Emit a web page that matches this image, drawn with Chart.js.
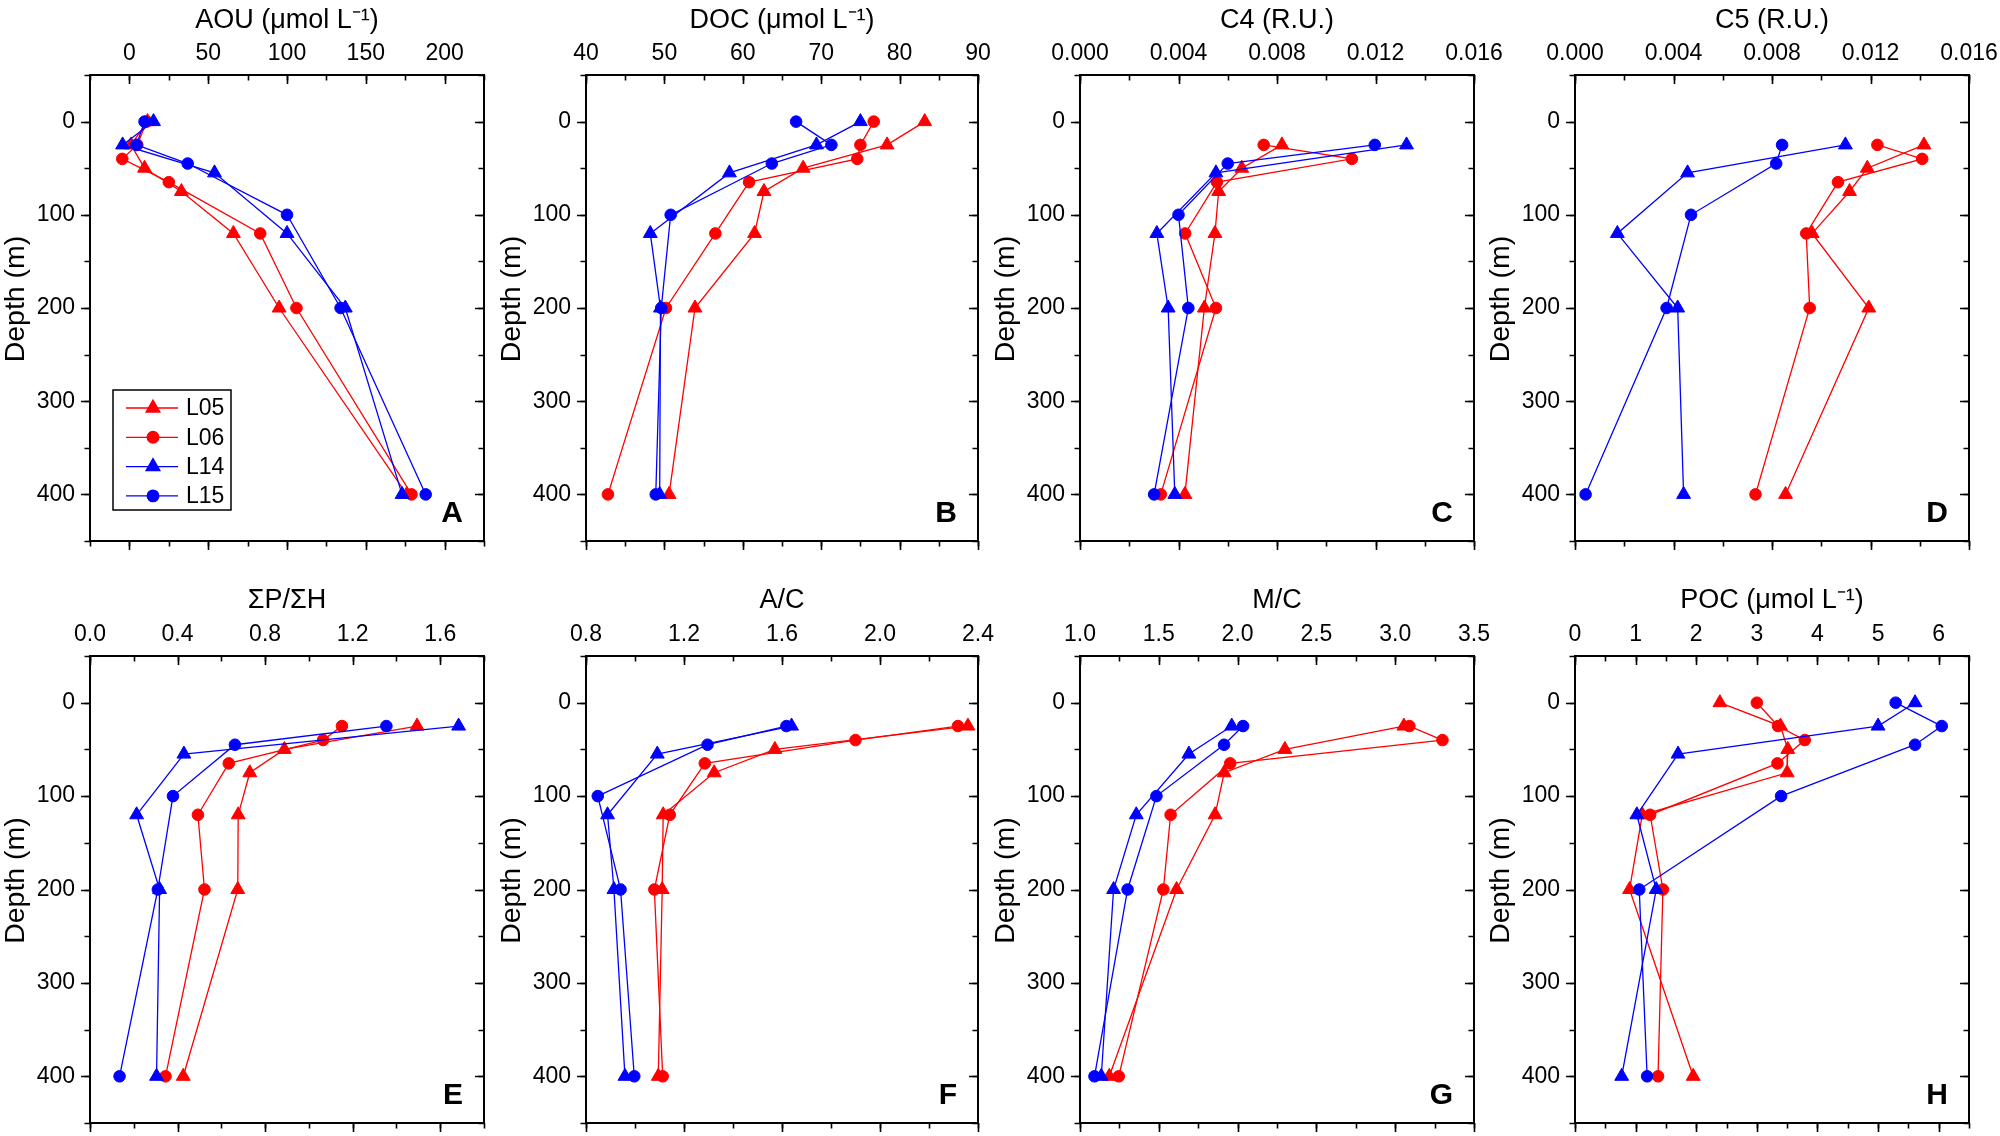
<!DOCTYPE html>
<html>
<head>
<meta charset="utf-8">
<script src="https://cdn.jsdelivr.net/npm/chart.js@4.4.1/dist/chart.umd.min.js"></script>
<style>
  html, body { margin: 0; padding: 0; background: #fff; overflow: hidden; }
  #wrap { position: relative; width: 2000px; height: 1136px; }
  canvas { position: absolute; }
</style>
</head>
<body>
<div id="wrap"></div>
<script>
// sampling depths (m) per station
const depthL05 = [0, 25, 50, 75, 120, 200, 400];
const depthL06 = [0, 25, 40, 65, 120, 200, 400];
const depthL14 = [0, 25, 55, 120, 200, 400];
const depthL15 = [0, 25, 45, 100, 200, 400];
const depthTicks = ['0', '100', '200', '300', '400'];

// A - AOU
const aouL05 = [11.5, 1, 9.6, 33, 66, 95, 176];
const aouL06 = [11, 5, -4.5, 25, 83, 106, 179];
const aouL14 = [15.3, -4.3, 54, 100, 137, 173];
const aouL15 = [9.6, 4.5, 37, 100, 134, 188];
const aouTicks = ['0', '50', '100', '150', '200'];

// B - DOC
const docL05 = [83.2, 78.4, 67.7, 62.7, 61.5, 53.9, 50.6];
const docL06 = [76.7, 75.0, 74.6, 60.8, 56.5, 50.2, 42.8];
const docL14 = [75.0, 69.4, 58.3, 48.2, 49.5, 49.4];
const docL15 = [66.8, 71.3, 63.7, 50.8, 49.6, 48.9];
const docTicks = ['40', '50', '60', '70', '80', '90'];

// C - C4
const c4L05 = [null, 0.0082, 0.00657, 0.00563, 0.00548, 0.00505, 0.00426];
const c4L06 = [null, 0.00746, 0.01104, 0.00556, 0.00427, 0.00552, 0.00328];
const c4L14 = [null, 0.01326, 0.00552, 0.00312, 0.00358, 0.00385];
const c4L15 = [null, 0.01197, 0.0060, 0.0040, 0.0044, 0.00301];
const c4Ticks = ['0.000', '0.004', '0.008', '0.012', '0.016'];

// D - C5
const c5L05 = [null, 0.01417, 0.01187, 0.01115, 0.00963, 0.01193, 0.00855];
const c5L06 = [null, 0.01228, 0.0141, 0.01068, 0.00939, 0.00953, 0.00733];
const c5L14 = [null, 0.01098, 0.00457, 0.00172, 0.00417, 0.00441];
const c5L15 = [null, 0.00841, 0.00817, 0.00471, 0.00372, 0.00043];
const c5Ticks = ['0.000', '0.004', '0.008', '0.012', '0.016'];

// E - sumP/sumH
const phL05 = [null, 1.494, 0.888, 0.73, 0.677, 0.675, 0.426];
const phL06 = [null, 1.151, 1.065, 0.634, 0.493, 0.523, 0.345];
const phL14 = [null, 1.684, 0.429, 0.213, 0.318, 0.304];
const phL15 = [null, 1.354, 0.662, 0.379, 0.310, 0.135];
const phTicks = ['0.0', '0.4', '0.8', '1.2', '1.6'];

// F - A/C
const acL05 = [null, 2.359, 1.571, 1.323, 1.115, 1.111, 1.095];
const acL06 = [null, 2.318, 1.90, 1.285, 1.142, 1.079, 1.113];
const acL14 = [null, 1.639, 1.091, 0.888, 0.914, 0.959];
const acL15 = [null, 1.618, 1.296, 0.848, 0.941, 0.997];
const acTicks = ['0.8', '1.2', '1.6', '2.0', '2.4'];

// G - M/C
const mcL05 = [null, 3.055, 2.30, 1.915, 1.857, 1.613, 1.186];
const mcL06 = [null, 3.09, 3.30, 1.953, 1.575, 1.529, 1.246];
const mcL14 = [null, 1.963, 1.691, 1.357, 1.213, 1.135];
const mcL15 = [null, 2.035, 1.914, 1.485, 1.302, 1.092];
const mcTicks = ['1.0', '1.5', '2.0', '2.5', '3.0', '3.5'];

// H - POC
const pocL05 = [2.39, 3.39, 3.51, 3.50, 1.11, 0.90, 1.95];
const pocL06 = [3.0, 3.35, 3.79, 3.34, 1.24, 1.45, 1.37];
const pocL14 = [5.61, 5.0, 1.70, 1.02, 1.34, 0.77];
const pocL15 = [5.29, 6.05, 5.61, 3.40, 1.06, 1.19];
const pocTicks = ['0', '1', '2', '3', '4', '5', '6'];

const stations = [
    { name: 'L05', depth: depthL05, color: '#ff0000', marker: 'triangle' },
    { name: 'L06', depth: depthL06, color: '#ff0000', marker: 'circle' },
    { name: 'L14', depth: depthL14, color: '#0000ff', marker: 'triangle' },
    { name: 'L15', depth: depthL15, color: '#0000ff', marker: 'circle' }
];

const panels = [
    { letter: 'A', title: 'AOU (μmol L⁻¹)', min: -25, max: 225, minor: 25, ticks: aouTicks, series: [aouL05, aouL06, aouL14, aouL15], legend: true },
    { letter: 'B', title: 'DOC (μmol L⁻¹)', min: 40, max: 90, minor: 5, ticks: docTicks, series: [docL05, docL06, docL14, docL15] },
    { letter: 'C', title: 'C4 (R.U.)', min: 0, max: 0.016, minor: 0.002, ticks: c4Ticks, series: [c4L05, c4L06, c4L14, c4L15] },
    { letter: 'D', title: 'C5 (R.U.)', min: 0, max: 0.016, minor: 0.002, ticks: c5Ticks, series: [c5L05, c5L06, c5L14, c5L15] },
    { letter: 'E', title: 'ΣP/ΣH', min: 0, max: 1.8, minor: 0.2, ticks: phTicks, series: [phL05, phL06, phL14, phL15] },
    { letter: 'F', title: 'A/C', min: 0.8, max: 2.4, minor: 0.2, ticks: acTicks, series: [acL05, acL06, acL14, acL15] },
    { letter: 'G', title: 'M/C', min: 1.0, max: 3.5, minor: 0.25, ticks: mcTicks, series: [mcL05, mcL06, mcL14, mcL15] },
    { letter: 'H', title: 'POC (μmol L⁻¹)', min: 0, max: 6.5, minor: 0.5, ticks: pocTicks, series: [pocL05, pocL06, pocL14, pocL15] }
];

// plot box edges on the page
const colLeft = [90, 586, 1080, 1575];
const colRight = [484, 978, 1474, 1969];
const rowTop = [75, 656];
const rowBottom = [541, 1123];
const LEFT_W = 90, TOP_H = 75, PAD_R = 40, PAD_B = 13;
const TRI_R = 8, CIRC_R = 5.8;

const FONT = '"Liberation Sans", Arial, sans-serif';
Chart.defaults.font.family = FONT;
Chart.defaults.color = '#000';

// frame, Origin-style ticks, panel letter, y title, legend
const framePlugin = {
    id: 'frame',
    afterDraw(chart, args, opts) {
        const ctx = chart.ctx;
        const { left, right, top, bottom } = chart.chartArea;
        const xs = chart.scales.x, ys = chart.scales.y;
        const p = opts.panel;
        ctx.save();
        ctx.strokeStyle = '#000';
        ctx.lineWidth = 2;
        ctx.strokeRect(left, top, right - left, bottom - top);

        ctx.lineWidth = 1.6;
        const xTick = (v, len) => {
            const px = Math.round(xs.getPixelForValue(v)) + 0.5;
            ctx.beginPath();
            ctx.moveTo(px, top); ctx.lineTo(px, top + len);
            ctx.moveTo(px, bottom); ctx.lineTo(px, bottom + len);
            ctx.stroke();
        };
        const yTick = (v, len) => {
            const py = Math.round(ys.getPixelForValue(v)) + 0.5;
            ctx.beginPath();
            ctx.moveTo(left - len, py); ctx.lineTo(left, py);
            ctx.moveTo(right - len, py); ctx.lineTo(right, py);
            ctx.stroke();
        };
        for (let k = Math.ceil(p.min / p.minor - 1e-6); k * p.minor <= p.max + 1e-9; k++) {
            xTick(k * p.minor, 5.5);
        }
        p.ticks.forEach(t => xTick(parseFloat(t), 9));
        for (let v = -50; v <= 450; v += 50) yTick(v, 5.5);
        depthTicks.forEach(t => yTick(parseFloat(t), 9));

        // y title
        ctx.fillStyle = '#000';
        ctx.font = '28.5px ' + FONT;
        ctx.textAlign = 'center';
        ctx.textBaseline = 'middle';
        ctx.save();
        ctx.translate(16, (top + bottom) / 2 - 9);
        ctx.rotate(-Math.PI / 2);
        ctx.fillText('Depth (m)', 0, 0);
        ctx.restore();

        // panel letter
        ctx.font = 'bold 30px ' + FONT;
        ctx.textAlign = 'right';
        ctx.textBaseline = 'alphabetic';
        ctx.fillText(p.letter, right - 21, bottom - 19.5);

        if (p.legend) {
            const bx = left + 23, by = top + 315, bw = 118, bh = 120;
            ctx.strokeStyle = '#000';
            ctx.lineWidth = 1.5;
            ctx.strokeRect(bx, by, bw, bh);
            stations.forEach((s, i) => {
                const ly = by + 18 + i * 29.3;
                ctx.strokeStyle = s.color;
                ctx.fillStyle = s.color;
                ctx.lineWidth = 1.3;
                ctx.beginPath();
                ctx.moveTo(bx + 13, ly); ctx.lineTo(bx + 65, ly);
                ctx.stroke();
                Chart.helpers.drawPoint(ctx, {
                    pointStyle: s.marker,
                    radius: s.marker === 'triangle' ? TRI_R : CIRC_R,
                    borderWidth: 1, rotation: 0
                }, bx + 40, ly);
                ctx.fillStyle = '#000';
                ctx.font = '23px ' + FONT;
                ctx.textAlign = 'left';
                ctx.textBaseline = 'middle';
                ctx.fillText(s.name, bx + 73, ly + 1);
            });
        }
        ctx.restore();
    }
};

const wrap = document.getElementById('wrap');

panels.forEach((p, i) => {
    const col = i % 4, row = Math.floor(i / 4);
    const boxW = colRight[col] - colLeft[col];
    const boxH = rowBottom[row] - rowTop[row];
    const canvas = document.createElement('canvas');
    const w = boxW + LEFT_W + PAD_R, h = boxH + TOP_H + PAD_B;
    canvas.width = w; canvas.height = h;
    canvas.style.width = w + 'px'; canvas.style.height = h + 'px';
    canvas.style.left = (colLeft[col] - LEFT_W) + 'px';
    canvas.style.top = (rowTop[row] - TOP_H) + 'px';
    wrap.appendChild(canvas);

    const datasets = stations.map((s, j) => {
        const pts = [];
        p.series[j].forEach((v, k) => {
            if (v !== null) pts.push({ x: v, y: s.depth[k] });
        });
        return {
            label: s.name,
            data: pts,
            showLine: true,
            borderColor: s.color,
            backgroundColor: s.color,
            borderWidth: 1.3,
            pointStyle: s.marker,
            pointRadius: s.marker === 'triangle' ? TRI_R : CIRC_R,
            pointBorderWidth: 1,
            pointBorderColor: s.color,
            pointBackgroundColor: s.color,
            order: 4 - j
        };
    });

    new Chart(canvas.getContext('2d'), {
        type: 'scatter',
        data: { datasets: datasets },
        options: {
            responsive: false,
            animation: false,
            devicePixelRatio: 1,
            events: [],
            layout: { padding: { left: 0, top: 0, right: PAD_R, bottom: PAD_B } },
            plugins: {
                legend: { display: false },
                tooltip: { enabled: false },
                frame: { panel: p }
            },
            scales: {
                x: {
                    type: 'linear',
                    position: 'top',
                    min: p.min,
                    max: p.max,
                    afterFit: s => { s.height = TOP_H; s.paddingLeft = 0; s.paddingRight = 0; },
                    afterBuildTicks: s => { s.ticks = p.ticks.map(t => ({ value: parseFloat(t) })); },
                    ticks: {
                        callback: (v, idx) => p.ticks[idx],
                        autoSkip: false,
                        maxRotation: 0,
                        padding: 2,
                        color: '#000',
                        font: { size: 23, lineHeight: 1 }
                    },
                    grid: { display: false },
                    border: { display: false },
                    title: {
                        display: true,
                        text: p.title,
                        color: '#000',
                        font: { size: 27, lineHeight: 1 },
                        padding: { top: row === 0 ? 7 : 6, bottom: 0 }
                    }
                },
                y: {
                    type: 'linear',
                    position: 'left',
                    reverse: true,
                    min: -50,
                    max: 450,
                    afterFit: s => { s.width = LEFT_W; s.paddingTop = 0; s.paddingBottom = 0; },
                    afterBuildTicks: s => { s.ticks = depthTicks.map(t => ({ value: parseFloat(t) })); },
                    ticks: {
                        callback: (v, idx) => depthTicks[idx],
                        autoSkip: false,
                        padding: 7,
                        color: '#000',
                        font: { size: 23, lineHeight: 1 }
                    },
                    grid: { display: false },
                    border: { display: false }
                }
            }
        },
        plugins: [framePlugin]
    });
});
</script>
</body>
</html>
